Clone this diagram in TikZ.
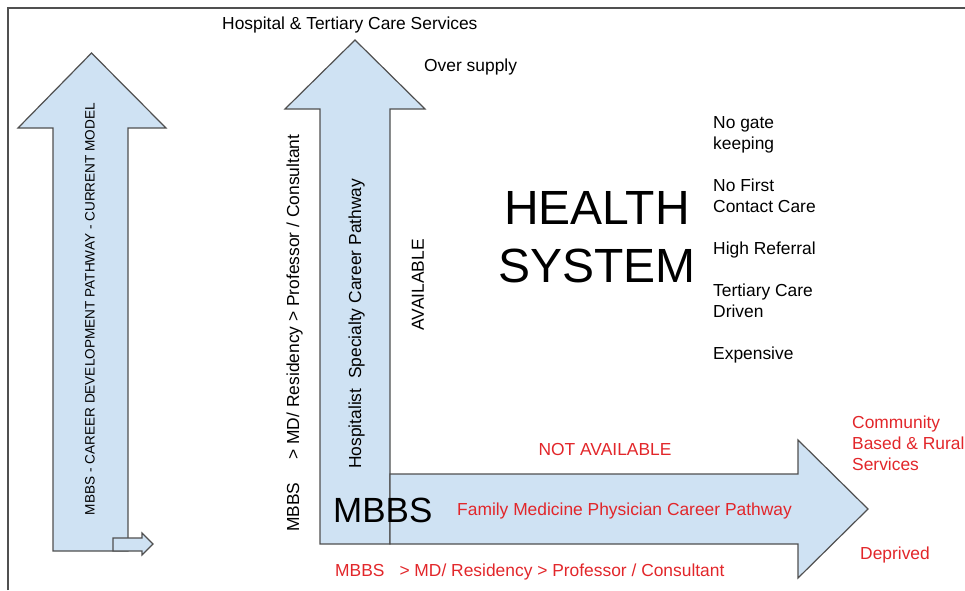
\documentclass[tikz,border=0pt]{standalone}
\usepackage{fontspec}
\setmainfont{Liberation Sans}
\definecolor{pathblue}{RGB}{207,226,243}
\definecolor{pathline}{RGB}{80,80,80}
\definecolor{pathred}{RGB}{226,38,42}
\tikzset{
    blockarrow/.style={draw=pathline, fill=pathblue, line width=1.2pt, line join=miter},
    txt/.style={inner sep=0pt, font=\fontsize{17.4}{21}\selectfont},
    redtxt/.style={txt, text=pathred},
}
\begin{document}
\begin{tikzpicture}[x=1pt,y=-1pt]
    \useasboundingbox (0,0) rectangle (965,590);
    \draw[pathline, line width=1.5pt] (8,590) -- (8,8) -- (965,8);
    \def\base{544}
    \def\neck{109}
    % current model arrow and its small side arrow
    \draw[blockarrow] (53,551) -- (53,128) -- (18,128) -- (91.5,53) -- (166,128) -- (128,128) -- (128,551) -- cycle;
    \draw[blockarrow] (113,538) -- (142,538) -- (142,533) -- (153,544) -- (142,555) -- (142,551) -- (113,551) -- cycle;
    % hospitalist arrow (up) and family medicine arrow (right)
    \draw[blockarrow] (320,\base) -- (320,\neck) -- (285,\neck) -- (355,40) -- (425,\neck) -- (390,\neck) -- (390,\base) -- cycle;
    \draw[blockarrow] (390,474) -- (798,474) -- (798,440) -- (868,509) -- (798,578) -- (798,\base) -- (390,\base) -- cycle;

    \node[txt, rotate=90, font=\fontsize{13.6}{16}\selectfont] (current) at (90,309) {MBBS - CAREER DEVELOPMENT PATHWAY - CURRENT MODEL};
    \node[txt, rotate=90, anchor=base west] (blacksteps) at (299,532) {MBBS\hspace{23pt}> MD/ Residency > Professor / Consultant};
    \node[txt, rotate=90, anchor=base west] (hospitalist) at (361,469) {Hospitalist\ \ Specialty Career Pathway};
    \node[txt, rotate=90] (avail) at (418,285) {AVAILABLE};
    \node[txt, anchor=base west] (hospital) at (222,29) {Hospital \& Tertiary Care Services};
    \node[txt, anchor=base west] (supply) at (424,71) {Over supply};
    \node[txt, font=\fontsize{48}{48}\selectfont, anchor=base] (health) at (597,224) {HEALTH};
    \node[txt, font=\fontsize{48}{48}\selectfont, anchor=base] (system) at (597,282) {SYSTEM};
    \foreach \y/\t [count=\i] in {128/No gate,149/keeping,191/No First,212/Contact Care,%
    254/High Referral,296/Tertiary Care,317/Driven,359/Expensive}
    {
    \node[txt, anchor=base west] (item\i) at (713,\y) {\t};
    }
    \node[txt, font=\fontsize{35}{35}\selectfont, anchor=base west] (mbbs) at (333,522) {MBBS};
    \node[redtxt, anchor=base] (notavail) at (605,455) {NOT AVAILABLE};
    \node[redtxt, anchor=base west] (family) at (457,515) {Family Medicine Physician Career Pathway};
    \foreach \y/\t [count=\i] in {428/Community,449/Based \& Rural,470/Services}
    {
    \node[redtxt, anchor=base west] (rural\i) at (852,\y) {\t};
    }
    \node[redtxt, anchor=base west] (deprived) at (860,559) {Deprived};
    \node[redtxt, anchor=base west] (redsteps) at (335,576) {MBBS\hspace{15pt}> MD/ Residency > Professor / Consultant};
\end{tikzpicture}
\end{document}
